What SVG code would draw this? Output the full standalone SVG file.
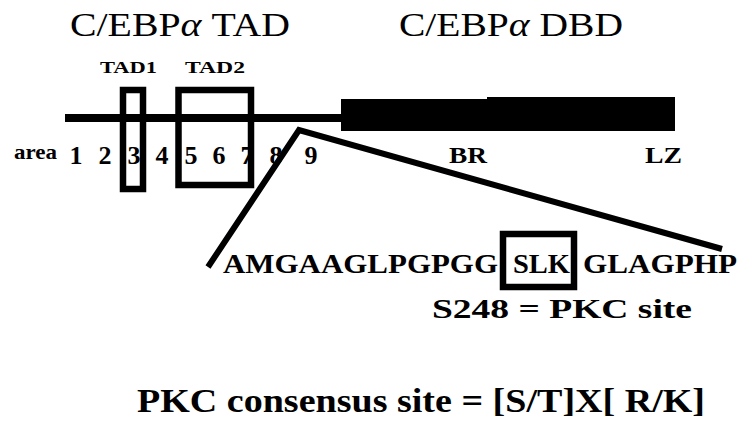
<svg xmlns="http://www.w3.org/2000/svg" width="742" height="425" viewBox="0 0 742 425">
<style>
  text { font-family: "Liberation Serif", "Times New Roman", Times, serif; fill: #000; }
  .title { font-size: 33px; font-weight: 400; }
  .b { font-weight: 700; }
  .num { font-size: 26px; font-weight: 700; text-anchor: middle; }
  .box { fill: none; stroke: #000; stroke-width: 6.5; }
  .line { fill: none; stroke: #000; stroke-width: 6; stroke-linejoin: miter; }
</style>
<rect width="742" height="425" fill="#fff"/>

<g id="titles">
  <text class="title" x="70" y="36" textLength="220" lengthAdjust="spacingAndGlyphs">C/EBP<tspan font-style="italic">α</tspan> TAD</text>
  <text class="title" x="399" y="36" textLength="224" lengthAdjust="spacingAndGlyphs">C/EBP<tspan font-style="italic">α</tspan> DBD</text>
</g>

<g id="protein">
  <line x1="65" y1="118" x2="342" y2="118" stroke="#000" stroke-width="8"/>
  <path d="M341,99 H487 V97 H675 V131 H341 Z" fill="#000"/>
</g>

<g id="tad1">
  <text class="b" x="100" y="73" font-size="17" textLength="57" lengthAdjust="spacingAndGlyphs">TAD1</text>
  <rect class="box" x="123" y="90" width="20" height="99"/>
</g>
<g id="tad2">
  <text class="b" x="185" y="73" font-size="17" textLength="60" lengthAdjust="spacingAndGlyphs">TAD2</text>
  <rect class="box" x="178.5" y="90" width="72.5" height="95"/>
</g>

<g id="areas">
  <text class="b" x="14" y="159" font-size="22" textLength="43" lengthAdjust="spacingAndGlyphs">area</text>
  <text class="num" x="76" y="164">1</text>
  <text class="num" x="105" y="164">2</text>
  <text class="num" x="134" y="164">3</text>
  <text class="num" x="162" y="164">4</text>
  <text class="num" x="191" y="164">5</text>
  <text class="num" x="219" y="164">6</text>
  <text class="num" x="247" y="164">7</text>
  <text class="num" x="276" y="164">8</text>
  <text class="num" x="311" y="164">9</text>
</g>

<g id="dbd-labels">
  <text class="b" x="449" y="163" font-size="23" textLength="38" lengthAdjust="spacingAndGlyphs">BR</text>
  <text class="b" x="645" y="163" font-size="23" textLength="37" lengthAdjust="spacingAndGlyphs">LZ</text>
</g>

<g id="connectors">
  <polyline class="line" points="208,267 299,130 722,249"/>
</g>

<g id="sequence">
  <text class="b" x="223" y="273" font-size="27" textLength="275" lengthAdjust="spacingAndGlyphs">AMGAAGLPGPGG</text>
  <text class="b" x="513" y="273" font-size="27" textLength="57" lengthAdjust="spacingAndGlyphs">SLK</text>
  <text class="b" x="583" y="273" font-size="27" textLength="154" lengthAdjust="spacingAndGlyphs">GLAGPHP</text>
  <rect class="box" x="503" y="234" width="71" height="53" stroke-width="6"/>
</g>

<g id="notes">
  <text class="b" x="432" y="318" font-size="27" textLength="260" lengthAdjust="spacingAndGlyphs">S248 = PKC site</text>
  <text class="b" x="137" y="412" font-size="33" textLength="568" lengthAdjust="spacingAndGlyphs">PKC consensus site = [S/T]X[ R/K]</text>
</g>
</svg>
